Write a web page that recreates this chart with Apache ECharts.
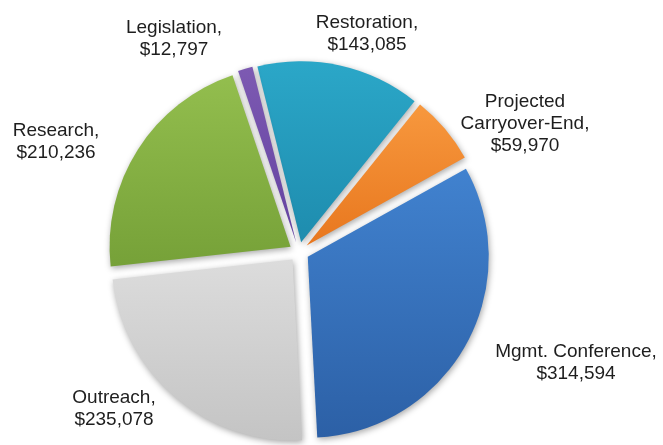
<!DOCTYPE html>
<html>
<head>
<meta charset="utf-8">
<script src="https://cdn.jsdelivr.net/npm/echarts@6/dist/echarts.min.js"></script>
<style>
html,body{margin:0;padding:0;background:#fff;}
#chart{width:663px;height:445px;}
</style>
</head>
<body>
<div id="chart"></div>
<script>
// Data (clockwise from the top)
const categories = ['Restoration', 'Projected Carryover-End', 'Mgmt. Conference', 'Outreach', 'Research', 'Legislation'];
const amounts = [143085, 59970, 314594, 235078, 210236, 12797];

// Styles / positions (kept separate from data)
const topColors = ['#2ba7c8', '#f7983e', '#4182cf', '#dcdcdc', '#93be4e', '#7d5ab2'];
const bottomColors = ['#1e8cae', '#e8771e', '#2c60a6', '#c4c4c4', '#76a138', '#6341a0'];
const labelPos = [[367, 34], [525, 124], [576, 363], [114, 409], [56, 142], [174, 39]];

function money(v) {
  return '$' + v.toString().replace(/\B(?=(\d{3})+(?!\d))/g, ',');
}
function labelText(name, v) {
  return name.replace('Projected ', 'Projected\n') + ',\n' + money(v);
}

const chart = echarts.init(document.getElementById('chart'), null, {renderer: 'canvas'});
const data = categories.map((c, i) => ({
  name: c,
  value: amounts[i],
  selected: true,
  itemStyle: {
    color: new echarts.graphic.LinearGradient(0, 0, 0, 1, [
      {offset: 0, color: topColors[i]},
      {offset: 1, color: bottomColors[i]}
    ])
  }
}));

const labels = categories.map((c, i) => ({
  type: 'text',
  x: labelPos[i][0],
  y: labelPos[i][1],
  silent: true,
  style: {
    text: labelText(c, amounts[i]),
    fontFamily: 'Arial, "Liberation Sans", sans-serif',
    fontSize: 19,
    lineHeight: 22,
    fill: '#1e1e1e',
    align: 'center',
    verticalAlign: 'middle',
    textAlign: 'center',
    textVerticalAlign: 'middle'
  }
}));

chart.setOption({
  animation: false,
  backgroundColor: '#ffffff',
  graphic: labels,
  series: [{
    type: 'pie',
    center: [299, 252],
    radius: [0, 181],
    startAngle: 104,
    clockwise: true,
    selectedMode: 'multiple',
    selectedOffset: 10,
    emphasis: {disabled: true},
    itemStyle: {
      shadowBlur: 6,
      shadowColor: 'rgba(0,0,0,0.35)',
      shadowOffsetX: 1,
      shadowOffsetY: 2
    },
    label: {show: false},
    labelLine: {show: false},
    data: data
  }]
});
</script>
</body>
</html>
